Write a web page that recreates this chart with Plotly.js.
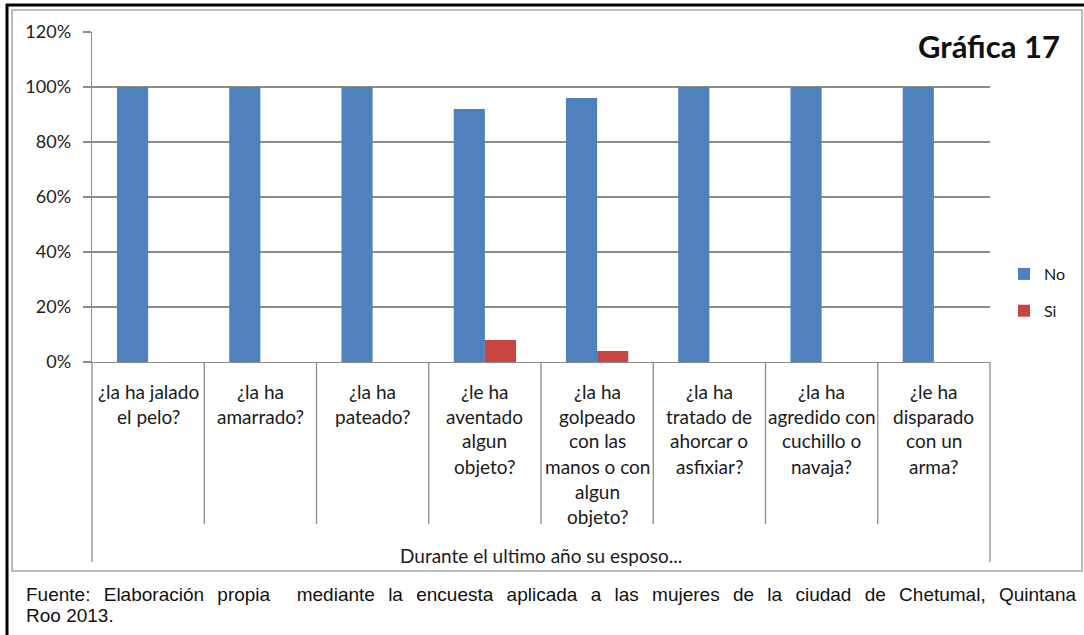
<!DOCTYPE html>
<html>
<head>
<meta charset="utf-8">
<script src="https://cdn.plot.ly/plotly-3.0.1.min.js"></script>
<style>html,body{margin:0;padding:0;background:#fff;}#chart{width:1084px;height:635px;}</style>
</head>
<body>
<div id="chart"></div>
<script>
// ---- data ----
const categoryLines = [
  ["¿la ha jalado", "el pelo?"],
  ["¿la ha", "amarrado?"],
  ["¿la ha", "pateado?"],
  ["¿le ha", "aventado", "algun", "objeto?"],
  ["¿la ha", "golpeado", "con las", "manos o con", "algun", "objeto?"],
  ["¿la ha", "tratado de", "ahorcar o", "asfixiar?"],
  ["¿la ha", "agredido con", "cuchillo o", "navaja?"],
  ["¿le ha", "disparado", "con un", "arma?"]
];
const categories = categoryLines.map(l => l.join(" "));
const seriesNames = ["No", "Si"];
const noValues = [1.00, 1.00, 1.00, 0.92, 0.96, 1.00, 1.00, 1.00];
const siValues = [0.00, 0.00, 0.00, 0.08, 0.04, 0.00, 0.00, 0.00];
const groupLabel = "Durante el ultimo año su esposo...";
const chartTitle = "Gráfica 17";
const footerLines = [
  "Fuente: Elaboración propia  mediante la encuesta aplicada a las mujeres de la ciudad de Chetumal, Quintana",
  "Roo 2013."
];

// ---- layout helpers (pixel -> paper) ----
const W = 1084, H = 635;
const M = {l: 92, r: 94, t: 32, b: 273, autoexpand: false};
const PW = W - M.l - M.r, PH = H - M.t - M.b;
const px = x => (x - M.l) / PW;
const py = y => (H - M.b - y) / PH;

const traces = [
  {type: 'bar', name: seriesNames[0], x: categories, y: noValues,
   marker: {color: '#4F81BD'}, legendgroup: 'a'},
  {type: 'bar', name: seriesNames[1], x: categories, y: siValues,
   marker: {color: '#C8463F'}, legendgroup: 'b'}
];

const labelFont = {family: 'Lato, "Open Sans", sans-serif', size: 19, color: '#1a1a1a'};
const annotations = [];
categoryLines.forEach((lines, i) => {
  lines.forEach((t, j) => {
    annotations.push({xref: 'x', yref: 'paper', x: i, y: py(391 + 25 * j),
      text: t, showarrow: false, xanchor: 'center', yanchor: 'middle', font: labelFont});
  });
});
annotations.push({xref: 'paper', yref: 'paper', x: 0.5, y: py(555), text: groupLabel,
  showarrow: false, xanchor: 'center', yanchor: 'middle', font: labelFont});
annotations.push({xref: 'paper', yref: 'paper', x: px(989), y: py(46), text: chartTitle,
  showarrow: false, xanchor: 'center', yanchor: 'middle',
  font: {family: 'Lato, sans-serif', size: 31, color: '#111', weight: 'bold'}});
footerLines.forEach((t, j) => {
  const styled = j === 0 ? '<span style="word-spacing:8px">' + t + '</span>' : t;
  annotations.push({xref: 'paper', yref: 'paper', x: px(24), y: py(594 + 21 * j), text: styled,
    showarrow: false, xanchor: 'left', yanchor: 'middle',
    font: {family: '"Liberation Sans", Arial, sans-serif', size: 19, color: '#111'}});
});

const shapes = [];
const n = categories.length;
for (let k = 0; k <= n; k++) {
  const outer = (k === 0 || k === n);
  shapes.push({type: 'line', xref: 'paper', yref: 'paper', x0: k / n, x1: k / n,
    y0: 0, y1: py(outer ? 562 : 524), line: {color: '#8c8c8c', width: 1.3}});
}
// white box behind title covering the top gridline
shapes.push({type: 'rect', xref: 'paper', yref: 'paper', x0: px(906), x1: px(993),
  y0: py(36), y1: py(28), fillcolor: '#fff', line: {width: 0}, layer: 'above'});
// chart border
shapes.push({type: 'rect', xref: 'paper', yref: 'paper', x0: px(12), x1: px(1082),
  y0: py(571), y1: py(10), line: {color: '#a6a6a6', width: 1.5}, layer: 'below'});
// outer black page frame
shapes.push({type: 'line', xref: 'paper', yref: 'paper', x0: px(6), x1: px(1084),
  y0: py(5), y1: py(5), line: {color: '#000', width: 3}});
shapes.push({type: 'line', xref: 'paper', yref: 'paper', x0: px(7), x1: px(7),
  y0: py(4), y1: py(635), line: {color: '#000', width: 3}});

const layout = {
  width: W, height: H,
  margin: M,
  paper_bgcolor: '#fff', plot_bgcolor: '#fff',
  barmode: 'group', bargap: 0.445, bargroupgap: 0,
  showlegend: true,
  legend: {x: px(1004), y: py(257), xanchor: 'left', yanchor: 'top',
    font: {family: 'Lato, sans-serif', size: 16, color: '#1a1a1a'},
    tracegroupgap: 13, itemwidth: 30, bgcolor: 'rgba(0,0,0,0)'},
  xaxis: {type: 'category', showticklabels: false, ticks: '', showgrid: false,
    showline: true, linecolor: '#8c8c8c', linewidth: 1.3, range: [-0.5, n - 0.5], fixedrange: true},
  yaxis: {range: [0, 1.2], dtick: 0.2, tickformat: '.0%', showgrid: true,
    gridcolor: '#8c8c8c', gridwidth: 1.3, zeroline: false, showline: true,
    linecolor: '#8c8c8c', linewidth: 1.3, ticks: 'outside', ticklen: 8, tickcolor: '#8c8c8c',
    tickwidth: 1.3, ticklabelstandoff: 8,
    tickfont: {family: 'Lato, sans-serif', size: 18, color: '#222'}},
  annotations: annotations,
  shapes: shapes
};

Plotly.newPlot('chart', traces, layout, {displayModeBar: false, staticPlot: true});
</script>
</body>
</html>
